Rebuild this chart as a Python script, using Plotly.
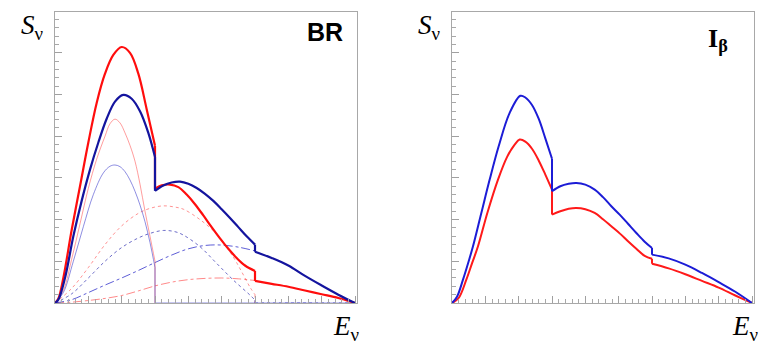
import plotly.graph_objects as go

W, H = 769, 347

# ---------------- data (x in arbitrary energy units, y in arbitrary spectrum units) ----------------
# A repeated x value marks a discontinuity (vertical jump) in the curve.
BR_RED_TOT_X = [0, 0.1, 0.25, 0.5, 0.75, 1.0, 1.25, 1.5, 1.75, 2.0, 2.25, 2.5, 2.75, 3.0,
                3.0, 3.2, 3.45, 3.7, 3.95, 4.2, 4.45, 4.7, 4.95, 5.2, 5.45, 5.7, 6.0,
                6.0, 6.5, 7.0, 7.5, 8.0, 8.5, 9.0]
BR_RED_TOT_Y = [0, 0.1, 0.6, 1.75, 2.8, 3.85, 4.8, 5.5, 5.95, 6.14, 6.0, 5.5, 4.65, 3.77,
                2.74, 2.82, 2.84, 2.78, 2.6, 2.37, 2.1, 1.82, 1.55, 1.3, 1.08, 0.9, 0.77,
                0.53, 0.46, 0.39, 0.3, 0.21, 0.12, 0.0]

BR_BLUE_TOT_X = [0, 0.1, 0.3, 0.55, 0.8, 1.05, 1.3, 1.55, 1.8, 2.05, 2.3, 2.55, 2.8, 3.0,
                 3.0, 3.25, 3.5, 3.75, 4.0, 4.25, 4.5, 4.75, 5.0, 5.25, 5.5, 5.75, 6.0,
                 6.0, 6.5, 7.0, 7.5, 8.0, 8.5, 9.0]
BR_BLUE_TOT_Y = [0, 0.08, 0.6, 1.6, 2.45, 3.2, 3.85, 4.42, 4.83, 4.99, 4.9, 4.6, 4.08, 3.5,
                 2.69, 2.82, 2.89, 2.91, 2.86, 2.76, 2.62, 2.45, 2.25, 2.04, 1.82, 1.6, 1.4,
                 1.23, 1.08, 0.9, 0.65, 0.42, 0.2, 0.0]

BR_RED_THIN_X = [0, 0.25, 0.5, 0.75, 1.0, 1.25, 1.5, 1.65, 1.8, 1.95, 2.1, 2.25, 2.4, 2.55,
                 2.7, 2.85, 3.0, 3.0]
BR_RED_THIN_Y = [0, 0.3, 1.05, 1.9, 2.75, 3.45, 4.0, 4.3, 4.41, 4.32, 4.08, 3.78, 3.4, 2.85,
                 2.2, 1.6, 1.0, 0]

BR_BLUE_THIN_X = [0, 0.25, 0.55, 0.85, 1.15, 1.45, 1.65, 1.8, 1.95, 2.1, 2.25, 2.4, 2.55,
                  2.7, 2.85, 3.0, 3.0, 9.0]
BR_BLUE_THIN_Y = [0, 0.25, 1.0, 1.83, 2.6, 3.12, 3.28, 3.31, 3.27, 3.15, 2.95, 2.68, 2.35,
                  1.95, 1.45, 0.85, 0, 0]

BR_RED_DOT_X = [0, 0.5, 1.0, 1.5, 2.0, 2.5, 2.85, 3.25, 3.6, 3.85, 4.35, 4.85, 5.35, 5.6, 5.85, 6.0, 6.0]
BR_RED_DOT_Y = [0, 0.35, 0.85, 1.4, 1.85, 2.15, 2.27, 2.33, 2.3, 2.25, 2.0, 1.65, 1.1, 0.75, 0.38, 0.2, 0]

BR_BLUE_DOT_X = [0, 0.5, 1.0, 1.5, 2.0, 2.5, 2.85, 3.25, 3.6, 3.85, 4.35, 4.85, 5.35, 5.85, 6.0, 6.0, 9.0]
BR_BLUE_DOT_Y = [0, 0.22, 0.6, 1.0, 1.33, 1.56, 1.67, 1.74, 1.71, 1.63, 1.35, 0.95, 0.55, 0.19, 0.07, 0, 0]

BR_BLUE_DASH_X = [0, 0.5, 1.0, 1.5, 2.0, 2.5, 3.0, 3.5, 4.0, 4.5, 5.0, 5.5, 6.0]
BR_BLUE_DASH_Y = [0, 0.08, 0.25, 0.43, 0.6, 0.78, 0.97, 1.15, 1.3, 1.38, 1.39, 1.34, 1.25]

BR_RED_DASH_X = [0, 0.5, 1.0, 1.5, 2.0, 2.5, 3.0, 3.5, 4.0, 4.5, 5.0, 5.5, 6.0]
BR_RED_DASH_Y = [0, 0.02, 0.06, 0.11, 0.18, 0.29, 0.41, 0.5, 0.56, 0.59, 0.6, 0.58, 0.54]

IB_BLUE_X = [0, 0.15, 0.33, 0.5, 0.63, 0.88, 1.13, 1.4, 1.73, 2.05, 2.2, 2.4, 2.6, 2.8, 3.0,
             3.0, 3.25, 3.5, 3.73, 4.0, 4.28, 4.53, 4.78, 5.03, 5.28, 5.53, 5.78, 6.0,
             6.0, 6.5, 7.0, 7.5, 8.0, 8.5, 9.0]
IB_BLUE_Y = [0, 0.15, 0.56, 1.0, 1.36, 2.16, 2.96, 3.76, 4.56, 4.97, 4.93, 4.75, 4.42, 3.95, 3.46,
             2.68, 2.8, 2.86, 2.88, 2.84, 2.72, 2.54, 2.32, 2.12, 1.9, 1.68, 1.47, 1.32,
             1.16, 1.07, 0.92, 0.72, 0.5, 0.27, 0.0]

IB_RED_X = [0, 0.2, 0.43, 0.6, 0.78, 1.06, 1.38, 1.65, 1.88, 2.03, 2.2, 2.4, 2.6, 2.8, 3.0,
            3.0, 3.25, 3.5, 3.73, 4.0, 4.28, 4.53, 4.78, 5.03, 5.28, 5.53, 5.78, 6.0,
            6.0, 6.5, 7.0, 7.5, 8.0, 8.5, 9.0]
IB_RED_Y = [0, 0.12, 0.56, 0.95, 1.36, 2.16, 2.96, 3.5, 3.8, 3.92, 3.87, 3.7, 3.42, 3.08, 2.72,
            2.12, 2.2, 2.26, 2.28, 2.25, 2.16, 2.01, 1.84, 1.67, 1.48, 1.3, 1.13, 1.06,
            0.94, 0.83, 0.69, 0.53, 0.37, 0.18, 0.0]

X_RANGE = [0, 9.06]
Y_RANGE = [0, 6.98]

# ---------------- helpers ----------------
def split_segments(xs, ys):
    segs = [([xs[0]], [ys[0]])]
    for i in range(1, len(xs)):
        if xs[i] == xs[i - 1]:
            segs.append(([xs[i]], [ys[i]]))
        else:
            segs[-1][0].append(xs[i])
            segs[-1][1].append(ys[i])
    return segs


def add_curve(fig, xs, ys, color, width, dash, xa, ya):
    segs = split_segments(xs, ys)
    sx, sy = [], []
    for x, y in segs:
        sx += x + [None]
        sy += y + [None]
    fig.add_trace(go.Scatter(x=sx, y=sy, mode="lines", xaxis=xa, yaxis=ya,
                             connectgaps=False, hoverinfo="skip", showlegend=False,
                             line=dict(color=color, width=width, dash=dash,
                                       shape="spline", smoothing=1.0)))
    jx, jy = [], []
    for i in range(len(segs) - 1):
        jx += [segs[i][0][-1], segs[i + 1][0][0], None]
        jy += [segs[i][1][-1], segs[i + 1][1][0], None]
    if jx:
        fig.add_trace(go.Scatter(x=jx, y=jy, mode="lines", xaxis=xa, yaxis=ya,
                                 connectgaps=False, hoverinfo="skip", showlegend=False,
                                 line=dict(color=color, width=width, dash=dash)))


fig = go.Figure()

# ----- left panel (BR) -----
add_curve(fig, BR_RED_DASH_X, BR_RED_DASH_Y, "rgba(255,40,40,0.55)", 1, "dashdot", "x", "y")
add_curve(fig, BR_BLUE_DASH_X, BR_BLUE_DASH_Y, "rgba(40,40,200,0.75)", 1, "dashdot", "x", "y")
add_curve(fig, BR_RED_DOT_X, BR_RED_DOT_Y, "rgba(255,40,40,0.5)", 1, "dot", "x", "y")
add_curve(fig, BR_BLUE_DOT_X, BR_BLUE_DOT_Y, "rgba(30,30,170,0.65)", 1, "dot", "x", "y")
add_curve(fig, BR_RED_THIN_X, BR_RED_THIN_Y, "rgba(255,60,60,0.5)", 1, "solid", "x", "y")
add_curve(fig, BR_BLUE_THIN_X, BR_BLUE_THIN_Y, "rgba(50,50,200,0.55)", 1, "solid", "x", "y")
add_curve(fig, BR_RED_TOT_X, BR_RED_TOT_Y, "#ff0d0d", 2.2, "solid", "x", "y")
add_curve(fig, BR_BLUE_TOT_X, BR_BLUE_TOT_Y, "#14149e", 2.2, "solid", "x", "y")

# ----- right panel (I_beta) -----
add_curve(fig, IB_RED_X, IB_RED_Y, "#ff1a1a", 2, "solid", "x2", "y2")
add_curve(fig, IB_BLUE_X, IB_BLUE_Y, "#1c1cd6", 2, "solid", "x2", "y2")

# ----- axes -----
def xaxis(dom):
    return dict(domain=dom, range=X_RANGE, showgrid=False, zeroline=False,
                showline=True, mirror=True, linecolor="#a8a8a8", linewidth=1,
                ticks="inside", tick0=0, dtick=1, ticklen=7, tickcolor="#a0a0a0",
                tickwidth=1, showticklabels=False,
                minor=dict(ticks="inside", dtick=0.2, tick0=0, ticklen=4,
                           tickcolor="#a8a8a8", tickwidth=1, showgrid=False))


def yaxis(anchor):
    return dict(domain=[44 / H, 335 / H], range=Y_RANGE, anchor=anchor, showgrid=False,
                zeroline=False, showline=True, mirror=True, linecolor="#a8a8a8",
                linewidth=1, ticks="inside", tick0=0, dtick=1, ticklen=7,
                tickcolor="#a0a0a0", tickwidth=1, showticklabels=False,
                minor=dict(ticks="inside", dtick=0.2, tick0=0, ticklen=4,
                           tickcolor="#a8a8a8", tickwidth=1, showgrid=False))


fig.update_layout(
    width=W, height=H, margin=dict(l=0, r=0, t=0, b=0),
    paper_bgcolor="white", plot_bgcolor="white", showlegend=False,
    xaxis=dict(xaxis([55 / W, 357 / W]), anchor="y"),
    yaxis=yaxis("x"),
    xaxis2=dict(xaxis([452 / W, 754 / W]), anchor="y2"),
    yaxis2=yaxis("x2"),
)

serif = "Liberation Serif, Times New Roman, serif"
ann = []
for x0 in (19, 416):
    ann.append(dict(xref="paper", yref="paper", x=x0 / W, y=(H - 27) / H,
                    xanchor="left", yanchor="middle", showarrow=False,
                    text="<i>S</i><sub>ν</sub>", font=dict(family=serif, size=27, color="black")))
for x0 in (331, 730):
    ann.append(dict(xref="paper", yref="paper", x=x0 / W, y=(H - 328) / H,
                    xanchor="left", yanchor="middle", showarrow=False,
                    text="<i>E</i><sub>ν</sub>", font=dict(family=serif, size=27, color="black")))
ann.append(dict(xref="paper", yref="paper", x=325 / W, y=(H - 32) / H,
                xanchor="center", yanchor="middle", showarrow=False,
                text="<b>BR</b>", font=dict(family="Liberation Sans, Arial, sans-serif",
                                            size=25, color="black")))
ann.append(dict(xref="paper", yref="paper", x=706 / W, y=(H - 40) / H,
                xanchor="left", yanchor="middle", showarrow=False,
                text="<b>I<sub>β</sub></b>", font=dict(family=serif, size=26, color="black")))
fig.update_layout(annotations=ann)

fig.write_html("out.html")
